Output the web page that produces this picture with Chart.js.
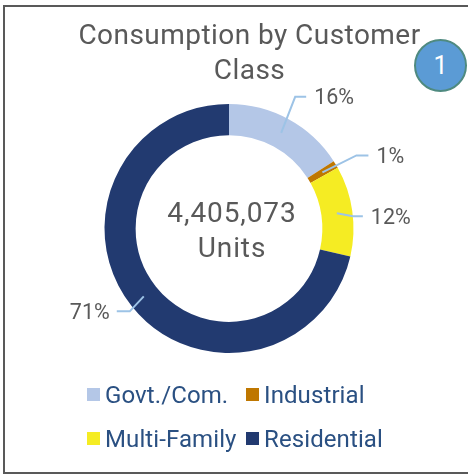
<!DOCTYPE html>
<html>
<head>
<meta charset="utf-8">
<script src="https://cdnjs.cloudflare.com/ajax/libs/Chart.js/4.4.0/chart.umd.min.js"></script>
<style>
html, body { margin: 0; padding: 0; background: #fff; overflow: hidden; }
#wrap { position: relative; width: 468px; height: 474px; overflow: hidden; }
#frame { position: absolute; left: 3px; top: 5px; width: 470px; height: 465px; border: 2.5px solid #595959; }
#chart { position: absolute; left: 0; top: 0; }
#badge {
    position: absolute; left: 414px; top: 39px; width: 49px; height: 49px; border-radius: 50%;
    background: #5B9BD5; border: 2.5px solid #4F8A80; color: #fff;
    font: 25px Roboto, sans-serif; line-height: 49px; text-align: center;
}
.legend-item { position: absolute; font: 24px Roboto, sans-serif; letter-spacing: 0.1px; color: #2A5082; line-height: 30px; white-space: nowrap; }
.legend-item i { position: absolute; left: -18px; top: 8px; width: 13px; height: 13px; }
</style>
</head>
<body>
<div id="wrap">
    <div id="frame"></div>
    <canvas id="chart" width="468" height="474"></canvas>
    <div id="badge">1</div>
    <div id="legend"></div>
</div>
<script>
const categories = ["Govt./Com.", "Industrial", "Multi-Family", "Residential"]
const shares = [15.9, 1.0, 11.7, 71.4]
const shareLabels = ["16%", "1%", "12%", "71%"]
const colors = ["#B4C7E7", "#BF7700", "#F5EC23", "#223A70"]
const titleLines = ["Consumption by Customer", "Class"]
const centerLines = ["4,405,073", "Units"]

// elbow and end of each leader line, relative to the middle of its slice
const leaders = [
    [[14, -36], [25, -36]],
    [[34, -17], [46, -17]],
    [[16, 3], [26, 3]],
    [[-14, 15], [-27, 15]],
]
const legendSlots = [[105, 380], [264, 380], [105, 424], [264, 424]]

const labelsPlugin = {
    id: "labelsPlugin",
    beforeDraw(chart){
        // canvas state is reset on resize, so the title spacing goes here
        chart.ctx.letterSpacing = "0.45px"
    },
    afterLayout(chart){
        // title sits right of the ring in the original
        chart.titleBlock.left += 41
    },
    afterDraw(chart){
        const ctx = chart.ctx
        const arcs = chart.getDatasetMeta(0).data
        ctx.save()
        ctx.textBaseline = "middle"
        arcs.forEach((arc, i)=>{
            const mid = arc.getCenterPoint()
            const [elbow, end] = leaders[i]
            ctx.beginPath()
            ctx.moveTo(mid.x, mid.y)
            ctx.lineTo(mid.x + elbow[0], mid.y + elbow[1])
            ctx.lineTo(mid.x + end[0], mid.y + end[1])
            ctx.strokeStyle = "#9DC3E6"
            ctx.lineWidth = 2
            ctx.stroke()

            ctx.font = '21.5px Roboto, sans-serif'
            ctx.letterSpacing = "0px"
            ctx.fillStyle = "#595959"
            ctx.textAlign = end[0] < 0 ? "right" : "left"
            ctx.fillText(shareLabels[i], mid.x + end[0] + (end[0] < 0 ? -7 : 8), mid.y + end[1] + 2)
        })
        const first = arcs[0]
        ctx.font = '28px Roboto, sans-serif'
        ctx.letterSpacing = "0.9px"
        ctx.textAlign = "center"
        centerLines.forEach((line, i)=>{
            ctx.fillText(line, first.x + 3, first.y - 14 + i * 35)
        })
        ctx.restore()
    },
}

new Chart(document.getElementById("chart"), {
    type: "doughnut",
    data: {
        labels: categories,
        datasets: [{ data: shares, backgroundColor: colors, borderWidth: 0 }],
    },
    options: {
        responsive: false,
        animation: false,
        cutout: "75%",
        layout: { padding: { left: 0, right: 10, top: 11, bottom: 121 } },
        plugins: {
            legend: { display: false },
            tooltip: { enabled: false },
            title: {
                display: true,
                text: titleLines,
                color: "#595959",
                font: { family: 'Roboto, sans-serif', size: 28, weight: "normal", lineHeight: 1.25 },
                padding: { top: 8, bottom: 15 },
            },
        },
    },
    plugins: [labelsPlugin],
})

const legendEl = document.getElementById("legend")
categories.forEach((name, i)=>{
    const item = document.createElement("div")
    item.className = "legend-item"
    item.style.left = legendSlots[i][0] + "px"
    item.style.top = legendSlots[i][1] + "px"
    item.textContent = name
    const swatch = document.createElement("i")
    swatch.style.background = colors[i]
    item.appendChild(swatch)
    legendEl.appendChild(item)
})
</script>
</body>
</html>
